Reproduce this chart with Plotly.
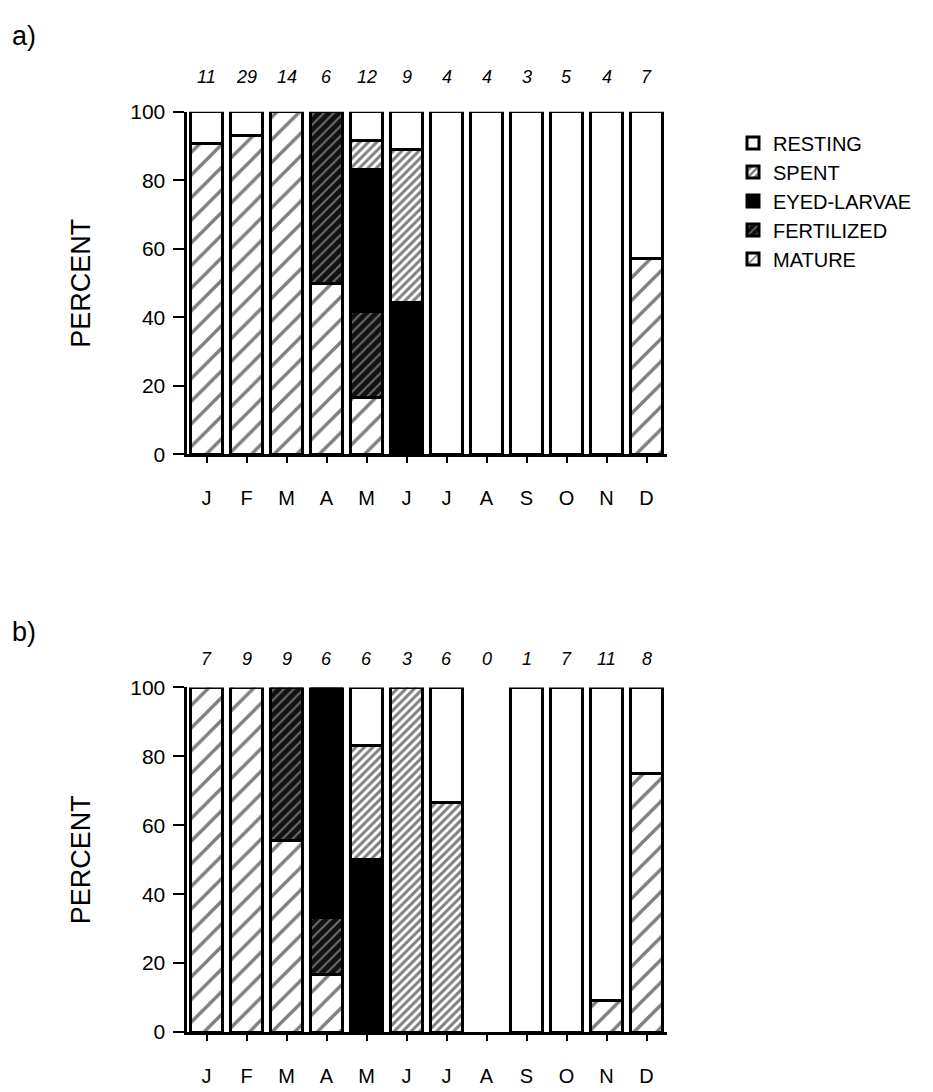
import plotly.graph_objects as go

months = ["J", "F", "M", "A", "M", "J", "J", "A", "S", "O", "N", "D"]
xpos = list(range(12))

# Panel a) percentages (bottom to top stack order)
a_n = [11, 29, 14, 6, 12, 9, 4, 4, 3, 5, 4, 7]
a_mature = [90.9, 93.1, 100, 50, 16.7, None, None, None, None, None, None, 57.1]
a_fertilized = [None, None, None, 50, 25.0, None, None, None, None, None, None, None]
a_eyed = [None, None, None, None, 41.6, 44.4, None, None, None, None, None, None]
a_spent = [None, None, None, None, 8.3, 44.5, None, None, None, None, None, None]
a_resting = [9.1, 6.9, None, None, 8.4, 11.1, 100, 100, 100, 100, 100, 42.9]

# Panel b) percentages
b_n = [7, 9, 9, 6, 6, 3, 6, 0, 1, 7, 11, 8]
b_mature = [100, 100, 55.6, 16.7, None, None, None, None, None, None, 9.1, 75]
b_fertilized = [None, None, 44.4, 16.6, None, None, None, None, None, None, None, None]
b_eyed = [None, None, None, 66.7, 50, None, None, None, None, None, None, None]
b_spent = [None, None, None, None, 33.3, 100, 66.7, None, None, None, None, None]
b_resting = [None, None, None, None, 16.7, None, 33.3, None, 100, 100, 90.9, 25]

y_ticks = [0, 20, 40, 60, 80, 100]

FONT = "Liberation Sans, Arial, Helvetica, sans-serif"

styles = {
    "MATURE": dict(color="white", pattern=dict(shape="/", size=16, solidity=0.21,
                                                fgcolor="black", bgcolor="white")),
    "FERTILIZED": dict(color="#111111", pattern=dict(shape="/", size=7, solidity=0.28,
                                                     fgcolor="#c8c8c8", bgcolor="#111111")),
    "EYED-LARVAE": dict(color="black"),
    "SPENT": dict(color="white", pattern=dict(shape="/", size=6, solidity=0.5,
                                              fgcolor="black", bgcolor="white")),
    "RESTING": dict(color="white"),
}

fig = go.Figure()

def add_panel(series, xa, ya, showlegend):
    for name, vals in series:
        st = styles[name]
        marker = dict(color=st["color"], line=dict(color="black", width=3))
        if "pattern" in st:
            marker["pattern"] = st["pattern"]
        fig.add_trace(go.Bar(
            x=xpos, y=vals, name=name, marker=marker,
            xaxis=xa, yaxis=ya, showlegend=showlegend, legendgroup=name,
        ))

add_panel([("MATURE", a_mature), ("FERTILIZED", a_fertilized), ("EYED-LARVAE", a_eyed),
           ("SPENT", a_spent), ("RESTING", a_resting)], "x", "y", True)
add_panel([("MATURE", b_mature), ("FERTILIZED", b_fertilized), ("EYED-LARVAE", b_eyed),
           ("SPENT", b_spent), ("RESTING", b_resting)], "x2", "y2", False)

W, H = 933, 1092
xdom = [186.5 / W, 666.5 / W]
dom_a = [1 - 452 / H, 1 - 102 / H]
dom_b = [1 - 1042 / H, 1 - 690 / H]

xaxis_common = dict(
    range=[-0.5, 11.5], domain=xdom, tickmode="array", tickvals=xpos, ticktext=months,
    ticks="outside", tickson="boundaries", ticklen=6, tickwidth=2, tickcolor="black",
    showline=True, linecolor="black", linewidth=3, showgrid=False, zeroline=False,
    tickfont=dict(family=FONT, size=20, color="black"), ticklabelstandoff=18,
    fixedrange=True,
)
yaxis_common = dict(
    range=[0, 100], tickmode="array", tickvals=y_ticks,
    ticks="outside", ticklen=11, tickwidth=2, tickcolor="black",
    showline=True, linecolor="black", linewidth=3, showgrid=False, zeroline=False,
    tickfont=dict(family=FONT, size=21, color="black"), ticklabelstandoff=3,
    title=dict(text="PERCENT", font=dict(family=FONT, size=27, color="black"), standoff=32),
)

fig.update_layout(
    width=W, height=H,
    margin=dict(l=0, r=0, t=0, b=0),
    paper_bgcolor="white", plot_bgcolor="white",
    barmode="stack", bargap=0.2,
    xaxis=dict(**xaxis_common, anchor="y"),
    yaxis=dict(**yaxis_common, domain=dom_a, anchor="x"),
    xaxis2=dict(**xaxis_common, anchor="y2"),
    yaxis2=dict(**yaxis_common, domain=dom_b, anchor="x2"),
    legend=dict(x=733 / W, y=1 - 114 / H, xanchor="left", yanchor="top",
                traceorder="reversed", font=dict(family=FONT, size=20, color="black"),
                bgcolor="rgba(0,0,0,0)", tracegroupgap=0, itemwidth=30),
    showlegend=True,
)

annotations = []
for i, n in enumerate(a_n):
    annotations.append(dict(x=xpos[i], y=1 - 66 / H, xref="x", yref="paper",
                            text="<i>" + str(n) + "</i>",
                            showarrow=False, font=dict(family=FONT, size=18, color="black"),
                            xanchor="center", yanchor="middle"))
for i, n in enumerate(b_n):
    annotations.append(dict(x=xpos[i], y=1 - 661 / H, xref="x2", yref="paper",
                            text="<i>" + str(n) + "</i>",
                            showarrow=False, font=dict(family=FONT, size=18, color="black"),
                            xanchor="center", yanchor="middle"))
annotations.append(dict(x=10 / W, y=1 - 25 / H, xref="paper", yref="paper", text="a)",
                        showarrow=False, font=dict(family=FONT, size=27, color="black"),
                        xanchor="left", yanchor="middle"))
annotations.append(dict(x=10 / W, y=1 - 633 / H, xref="paper", yref="paper", text="b)",
                        showarrow=False, font=dict(family=FONT, size=27, color="black"),
                        xanchor="left", yanchor="middle"))
fig.update_layout(annotations=annotations)

fig.write_html("out.html")
